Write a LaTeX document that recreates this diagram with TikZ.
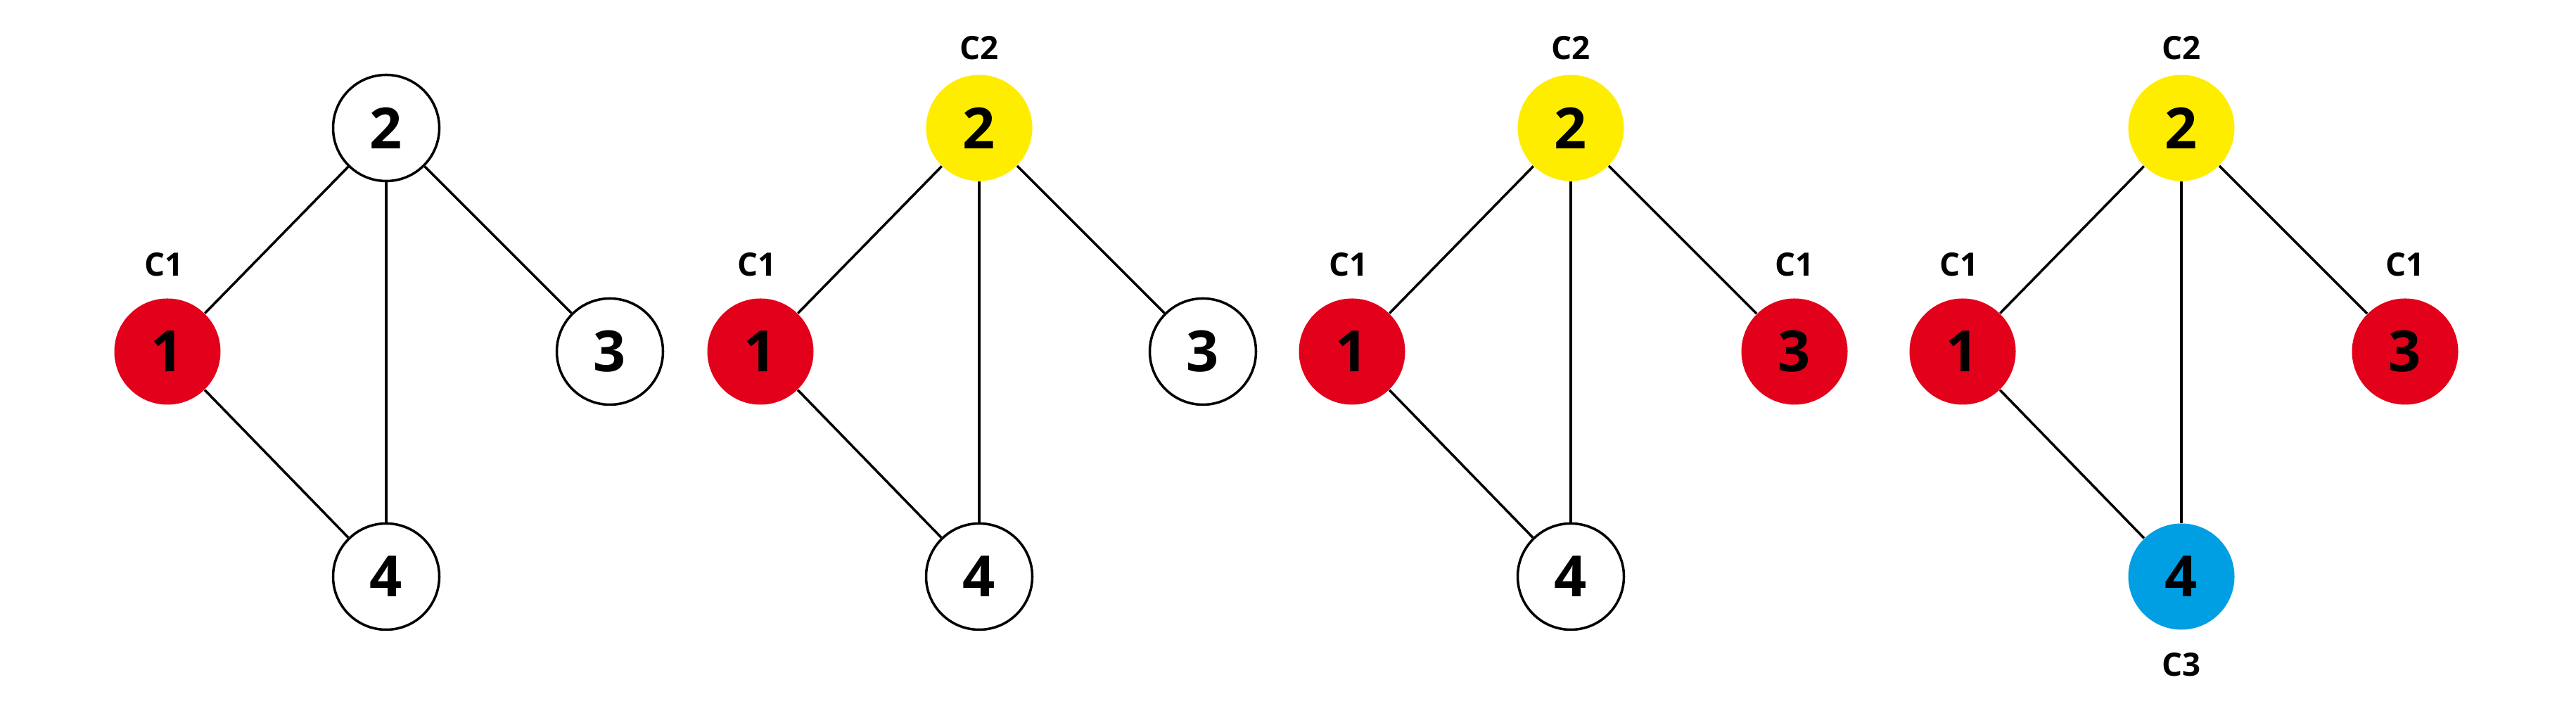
\documentclass[tikz,border=0pt]{standalone}
\usepackage{fontspec}
\setmainfont{Open Sans}
\usetikzlibrary{positioning}
\definecolor{cred}{HTML}{E2001A}
\definecolor{cyellow}{HTML}{FFED00}
\definecolor{cblue}{HTML}{009FE3}
\tikzset{vertex/.style={circle, minimum size=1.51cm, inner sep=0pt,
   font=\fontsize{23}{23}\selectfont\bfseries},
 plain/.style={draw=black, line width=1pt, fill=white},
 colred/.style={fill=cred},
 colyellow/.style={fill=cyellow},
 colblue/.style={fill=cblue},
 tag/.style={inner sep=0pt, font=\fontsize{13}{13}\selectfont\bfseries},
 link/.style={draw, line width=1pt},
 }

\begin{document}
\begin{tikzpicture}
        \useasboundingbox (0,0) rectangle (36.62,10.14);
        \foreach \x/\sa/\sb/\sc/\sd[count=\g] in {5.49/colred/plain/plain/plain,
            13.92/colred/colyellow/plain/plain, 22.33/colred/colyellow/colred/plain,
            31.01/colred/colyellow/colred/colblue} {
            \node[vertex, \sa] (v\g-1) at (\x-3.11, 5.14) {1};
            \node[vertex, \sb] (v\g-2) at (\x, 8.32) {2};
            \node[vertex, \sc] (v\g-3) at (\x+3.18, 5.14) {3};
            \node[vertex, \sd] (v\g-4) at (\x, 1.94) {4};
            \draw[link] (v\g-1) -- (v\g-2);
            \draw[link] (v\g-2) -- (v\g-3);
            \draw[link] (v\g-2) -- (v\g-4);
            \draw[link] (v\g-1) -- (v\g-4);
        }
        % colour tags
        \foreach \g in {1, 2, 3, 4} {
            \node[tag, above=0.3cm of v\g-1, xshift=-0.05cm] (t\g-1) {C1};
        }
        \foreach \g in {2, 3, 4} {
            \node[tag, above=0.2cm of v\g-2] (t\g-2) {C2};
        }
        \foreach \g in {3, 4} {
            \node[tag, above=0.3cm of v\g-3] (t\g-3) {C1};
        }
        \node[tag, below=0.32cm of v4-4] (t4-4) {C3};
    \end{tikzpicture}
\end{document}
